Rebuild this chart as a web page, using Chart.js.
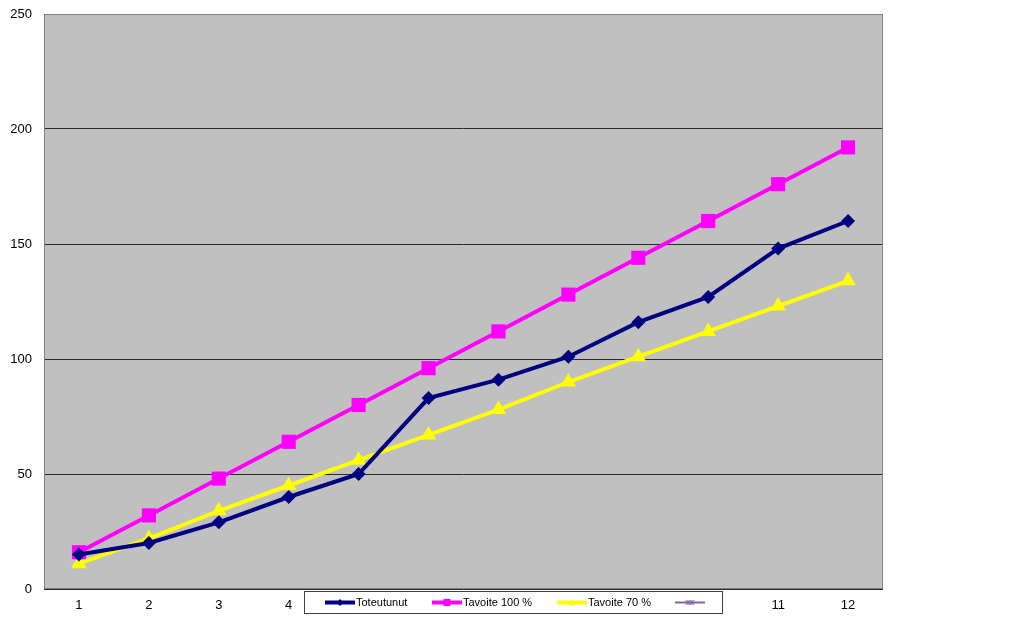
<!DOCTYPE html>
<html>
<head>
<meta charset="utf-8">
<script src="https://cdn.jsdelivr.net/npm/chart.js@4/dist/chart.umd.min.js"></script>
<style>
html,body{margin:0;padding:0;background:#fff;}
#wrap{width:1024px;height:623px;position:relative;}
</style>
</head>
<body>
<div id="wrap"><canvas id="c" width="1024" height="623"></canvas></div>
<script>
const categories = ['1','2','3','4','5','6','7','8','9','10','11','12'];
const toteutunut = [15, 20, 29, 40, 50, 83, 91, 101, 116, 127, 148, 160];
const tavoite100 = [16, 32, 48, 64, 80, 96, 112, 128, 144, 160, 176, 192];
const tavoite70 = [11, 22, 34, 45, 56, 67, 78, 90, 101, 112, 123, 134];
const extraSeries = [];
const seriesLabels = ['Toteutunut', 'Tavoite 100 %', 'Tavoite 70 %', ''];
const seriesColors = ['#000080', '#FF00FF', '#FFFF00', '#8064A2'];
const seriesMarkers = ['rectRot', 'rect', 'triangle', 'star'];
const yTicks = [0, 50, 100, 150, 200, 250];

const FONT = 'Liberation Sans, Arial, sans-serif';

const plotBg = {
  id: 'plotBg',
  beforeDraw(chart) {
    const {ctx, chartArea: a} = chart;
    ctx.save();
    ctx.fillStyle = '#C0C0C0';
    ctx.fillRect(a.left, a.top, a.right - a.left, a.bottom - a.top);
    ctx.restore();
  },
  afterDatasetsDraw(chart) {
    const {ctx, chartArea: a} = chart;
    ctx.save();
    ctx.strokeStyle = '#808080';
    ctx.lineWidth = 1;
    ctx.strokeRect(Math.round(a.left) + 0.5, Math.round(a.top) + 0.5,
      Math.round(a.right - a.left) - 1, Math.round(a.bottom - a.top) - 1);
    ctx.restore();
  }
};

function drawMarker(ctx, style, x, y, r, color) {
  ctx.save();
  ctx.fillStyle = color;
  ctx.strokeStyle = color;
  ctx.beginPath();
  if (style === 'rect') {
    ctx.fillRect(x - r, y - r, 2 * r, 2 * r);
  } else if (style === 'rectRot') {
    ctx.moveTo(x, y - r); ctx.lineTo(x + r, y); ctx.lineTo(x, y + r); ctx.lineTo(x - r, y); ctx.closePath(); ctx.fill();
  } else if (style === 'triangle') {
    ctx.moveTo(x, y - r); ctx.lineTo(x + r, y + r * 0.8); ctx.lineTo(x - r, y + r * 0.8); ctx.closePath(); ctx.fill();
  } else {
    ctx.lineWidth = 1;
    ctx.moveTo(x - r, y - r); ctx.lineTo(x + r, y + r);
    ctx.moveTo(x + r, y - r); ctx.lineTo(x - r, y + r);
    ctx.moveTo(x, y - r); ctx.lineTo(x, y + r);
    ctx.stroke();
  }
  ctx.restore();
}

const boxLegend = {
  id: 'boxLegend',
  afterDraw(chart) {
    const ctx = chart.ctx;
    const bx = 304, by = 591, bw = 419, bh = 23;
    ctx.save();
    ctx.fillStyle = '#FFFFFF';
    ctx.fillRect(bx, by, bw, bh);
    ctx.strokeStyle = '#404040';
    ctx.lineWidth = 1;
    ctx.strokeRect(bx + 0.5, by + 0.5, bw - 1, bh - 1);
    const starts = [325, 432, 557, 675];
    const cy = by + bh / 2;
    ctx.font = '11px ' + FONT;
    ctx.textBaseline = 'middle';
    ctx.textAlign = 'left';
    chart.data.datasets.forEach((ds, i) => {
      const x0 = starts[i], x1 = x0 + 30;
      ctx.strokeStyle = ds.borderColor;
      ctx.lineWidth = i === 3 ? 2 : 4;
      ctx.beginPath();
      ctx.moveTo(x0, cy); ctx.lineTo(x1, cy); ctx.stroke();
      if (i === 3) {
        drawMarker(ctx, 'star', x0 + 13, cy, 2.5, ds.borderColor);
        drawMarker(ctx, 'star', x0 + 17, cy, 2.5, ds.borderColor);
      } else {
        drawMarker(ctx, seriesMarkers[i], (x0 + x1) / 2, cy, 3.5, ds.borderColor);
      }
      ctx.fillStyle = '#000';
      if (ds.label) ctx.fillText(ds.label, x1 + 1, cy + 0.5);
    });
    ctx.restore();
  }
};

const seriesData = [toteutunut, tavoite100, tavoite70, extraSeries];
const radii = [7, 10, 9, 4];

new Chart(document.getElementById('c'), {
  type: 'line',
  data: {
    labels: categories,
    datasets: seriesData.map((d, i) => ({
      label: seriesLabels[i],
      data: d,
      borderColor: seriesColors[i],
      backgroundColor: seriesColors[i],
      borderWidth: 4,
      pointStyle: seriesMarkers[i],
      pointRadius: radii[i],
      pointBorderWidth: 0,
      pointBackgroundColor: seriesColors[i],
      tension: 0,
      fill: false
    }))
  },
  options: {
    responsive: false,
    animation: false,
    devicePixelRatio: 1,
    layout: {padding: {left: 0, right: 141, top: 14, bottom: 0}},
    plugins: {
      legend: {display: false},
      tooltip: {enabled: false}
    },
    scales: {
      x: {
        offset: true,
        grid: {display: false, drawTicks: false},
        border: {display: false},
        ticks: {color: '#000', font: {family: FONT, size: 13}, padding: 9, maxRotation: 0, autoSkip: false},
        afterFit(s) { s.height = 34; s.paddingLeft = 0; s.paddingRight = 0; s.paddingTop = 0; s.paddingBottom = 0; }
      },
      y: {
        min: 0, max: 250,
        afterBuildTicks(s) { s.ticks = yTicks.map(v => ({value: v})); },
        grid: {color: '#2a2a2a', lineWidth: 1, drawTicks: false},
        border: {display: false},
        ticks: {color: '#000', font: {family: FONT, size: 13}, padding: 12},
        afterFit(s) { s.width = 44; s.paddingTop = 0; s.paddingBottom = 0; s.paddingLeft = 0; s.paddingRight = 0; }
      }
    }
  },
  plugins: [plotBg, boxLegend]
});
</script>
</body>
</html>
